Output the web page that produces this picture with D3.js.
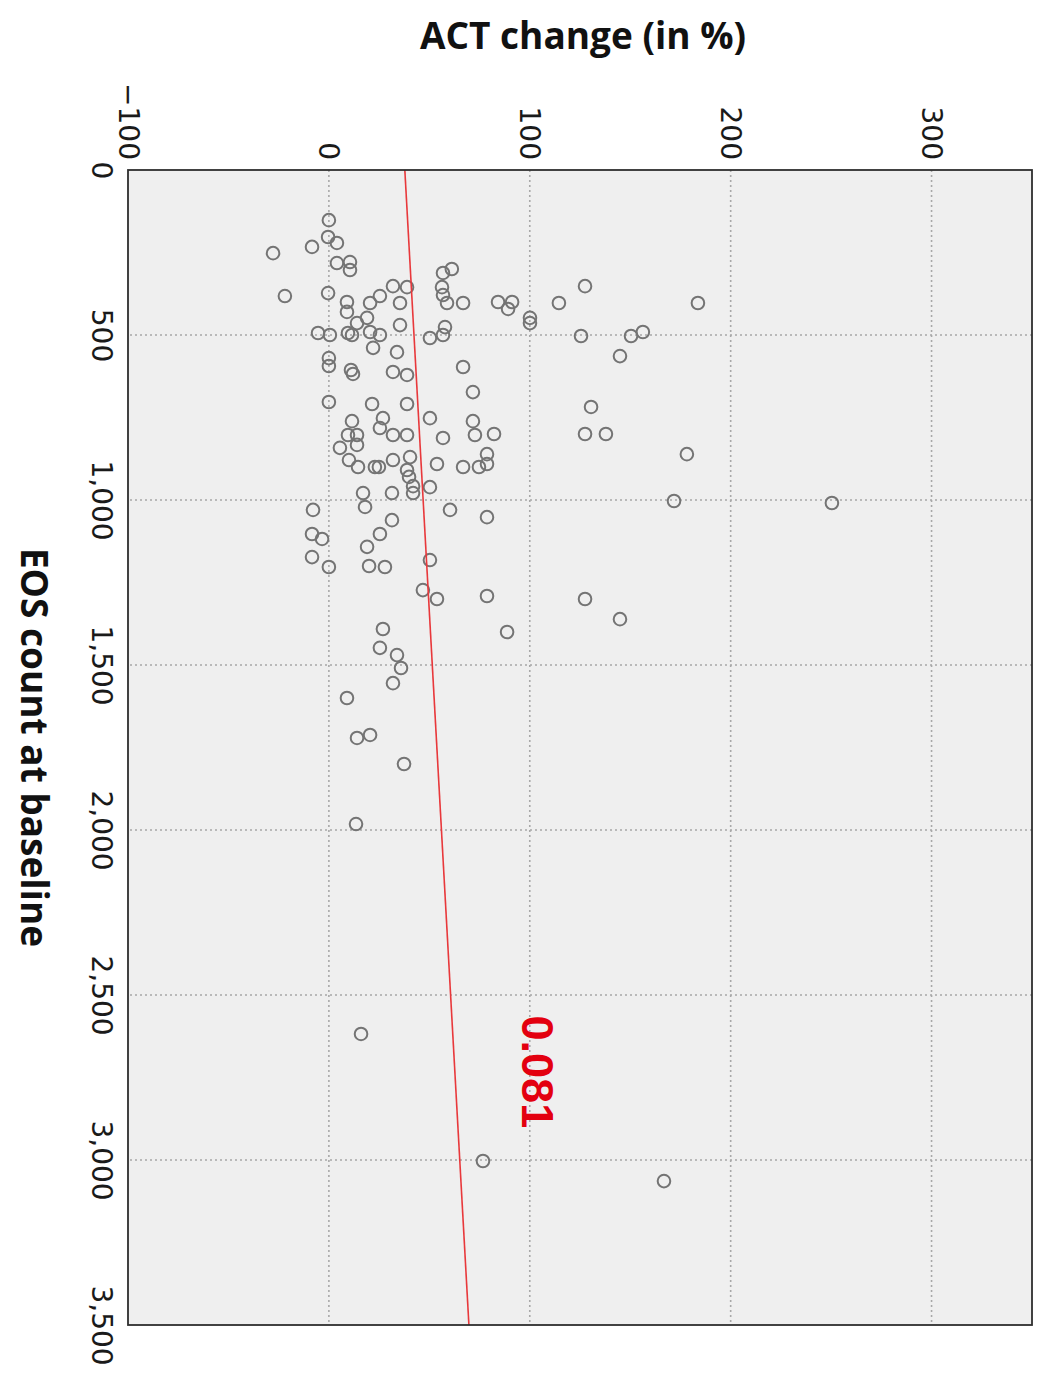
<!DOCTYPE html>
<html>
<head>
<meta charset="utf-8">
<script src="https://cdn.jsdelivr.net/npm/d3@7"></script>
<style>
  html, body { margin: 0; padding: 0; background: #ffffff; }
  svg { display: block; }
</style>
</head>
<body>
<svg id="chart" width="1037" height="1382"></svg>
<script>
// ---- Data (EOS count at baseline vs ACT change in %) ----
const eosBaseline = [
  152, 203, 221, 252, 233, 282, 279, 303, 312, 300,
  382, 373, 400, 430, 403, 382, 352, 355, 403, 355,
  379, 403, 403, 400, 400, 421, 464, 448, 494, 500,
  494, 500, 491, 500, 470, 509, 500, 476, 539, 552,
  597, 570, 594, 606, 618, 612, 621, 673, 703, 709,
  709, 752, 761, 761, 752, 782, 803, 803, 812, 803,
  800, 803, 803, 833, 842, 879, 900, 900, 900, 879,
  870, 909, 930, 958, 979, 961, 891, 900, 900, 891,
  861, 979, 979, 1021, 1030, 1030, 1052, 1061, 1103, 1118,
  1103, 1142, 1173, 1203, 1200, 1203, 1182, 1273, 1300, 1291,
  1400, 1391, 1448, 1470, 1509, 1555, 1600, 352, 403, 403,
  448, 464, 503, 503, 491, 564, 718, 800, 800, 861,
  1003, 1721, 1712, 1800, 1982, 2618, 1009, 3003, 3064, 1300,
  1361
];
const actChange = [
  0.0, -0.4, 4.0, -27.8, -8.4, 4.0, 10.5, 10.5, 56.8, 61.2,
  -21.9, -0.4, 9.0, 9.0, 20.5, 25.4, 31.9, 38.9, 35.4, 56.3,
  56.8, 58.8, 66.8, 84.2, 91.2, 89.2, 14.0, 19.0, -5.4, 0.5,
  9.5, 11.5, 20.5, 25.4, 35.4, 50.3, 56.8, 57.8, 22.0, 33.9,
  66.8, 0.0, 0.0, 11.0, 12.0, 31.9, 38.9, 71.7, 0.0, 21.5,
  38.9, 50.3, 71.7, 11.5, 26.9, 25.4, 31.9, 38.9, 56.8, 72.7,
  82.2, 9.5, 14.0, 14.0, 5.5, 10.0, 14.5, 22.9, 24.9, 31.9,
  40.4, 38.9, 39.9, 41.9, 41.9, 50.3, 53.8, 66.8, 74.7, 78.7,
  78.7, 17.0, 31.4, 18.0, -7.9, 60.3, 78.7, 31.4, -8.4, -3.4,
  25.4, 19.0, -8.4, 0.0, 20.0, 27.9, 50.3, 46.8, 53.8, 78.7,
  88.7, 26.9, 25.4, 33.9, 35.9, 31.9, 9.0, 127.5, 114.5, 183.7,
  100.1, 100.1, 125.5, 150.4, 156.3, 144.9, 130.5, 127.5, 137.9, 178.2,
  171.8, 14.0, 20.5, 37.4, 13.5, 16.0, 250.4, 76.7, 166.8, 127.5,
  144.9
];
const eosTicks = [0, 500, 1000, 1500, 2000, 2500, 3000, 3500];
const actTicks = [-100, 0, 100, 200, 300];
const eosGrid = [500, 1000, 1500, 2000, 2500, 3000];
const actGrid = [0, 100, 200, 300];
const fitEOS = [0, 3500];
const fitACT = [37.8, 69.7];
const corrLabel = "0.081";
const corrPos = [2733, 104];
const xTitle = "EOS count at baseline";
const yTitle = "ACT change (in %)";

// ---- Layout: chart drawn in its natural orientation, then rotated 90° clockwise ----
const W = 1155;  // EOS axis length
const H = 904;   // ACT axis length
const svg = d3.select("#chart");
const g = svg.append("g").attr("transform", "translate(1032,170) rotate(90)");

const x = d3.scaleLinear().domain([0, 3500]).range([0, W]);
const y = d3.scaleLinear().domain([-100, 350]).range([H, 0]);

// panel background
g.append("rect").attr("x", 0).attr("y", 0).attr("width", W).attr("height", H)
  .attr("fill", "#efefef");

// gridlines
g.append("g").selectAll("line").data(eosGrid).join("line")
  .attr("x1", d => x(d)).attr("x2", d => x(d)).attr("y1", 0).attr("y2", H)
  .attr("stroke", "#a8a8a8").attr("stroke-width", 1.6).attr("stroke-dasharray", "2,3");
g.append("g").selectAll("line").data(actGrid).join("line")
  .attr("y1", d => y(d)).attr("y2", d => y(d)).attr("x1", 0).attr("x2", W)
  .attr("stroke", "#a8a8a8").attr("stroke-width", 1.6).attr("stroke-dasharray", "2,3");

// clip
svg.append("defs").append("clipPath").attr("id", "plotclip")
  .append("rect").attr("x", 0).attr("y", 0).attr("width", W).attr("height", H);

// points
const pts = eosBaseline.map((e, i) => ({e, a: actChange[i]}));
g.append("g").selectAll("circle").data(pts).join("circle")
  .attr("cx", d => x(d.e)).attr("cy", d => y(d.a)).attr("r", 6.3)
  .attr("fill", "none").attr("stroke", "#747474").attr("stroke-width", 2);

// regression line
g.append("line").attr("clip-path", "url(#plotclip)")
  .attr("x1", x(fitEOS[0])).attr("y1", y(fitACT[0]))
  .attr("x2", x(fitEOS[1])).attr("y2", y(fitACT[1]))
  .attr("stroke", "#e8383b").attr("stroke-width", 1.6);

// correlation label
g.append("text").attr("x", x(corrPos[0])).attr("y", y(corrPos[1]))
  .attr("text-anchor", "middle").attr("dominant-baseline", "central")
  .attr("font-family", "'Liberation Sans', Arial, sans-serif").attr("font-weight", "bold")
  .attr("font-size", 45).attr("fill", "#e3000f").text(corrLabel);

// frame
g.append("rect").attr("x", 0).attr("y", 0).attr("width", W).attr("height", H)
  .attr("fill", "none").attr("stroke", "#2e2e2e").attr("stroke-width", 1.8);

// axes
const axisFont = "'DejaVu Sans', sans-serif";
const yAxis = g.append("g")
  .call(d3.axisLeft(y).tickValues(actTicks).tickSize(0).tickPadding(10));
yAxis.select(".domain").remove();
yAxis.selectAll("text").attr("font-family", axisFont).attr("font-size", 28).attr("fill", "#1a1a1a");

const xAxis = g.append("g").attr("transform", `translate(0,${H})`)
  .call(d3.axisBottom(x).tickValues(eosTicks).tickSize(0).tickPadding(16).tickFormat(d3.format(",")));
xAxis.select(".domain").remove();
xAxis.selectAll("text").attr("font-family", axisFont).attr("font-size", 28).attr("fill", "#1a1a1a");

// axis titles
g.append("text")
  .attr("transform", `translate(-136,${H / 2 - 3}) rotate(-90)`)
  .attr("text-anchor", "middle").attr("dominant-baseline", "central")
  .attr("font-family", "'Open Sans', sans-serif").attr("font-weight", "bold")
  .attr("font-size", 37).attr("fill", "#111").text(yTitle);

g.append("text")
  .attr("x", W / 2).attr("y", H + 93)
  .attr("text-anchor", "middle").attr("dominant-baseline", "central")
  .attr("font-family", "'Open Sans', sans-serif").attr("font-weight", "bold")
  .attr("font-size", 37).attr("fill", "#111").text(xTitle);
</script>
</body>
</html>
